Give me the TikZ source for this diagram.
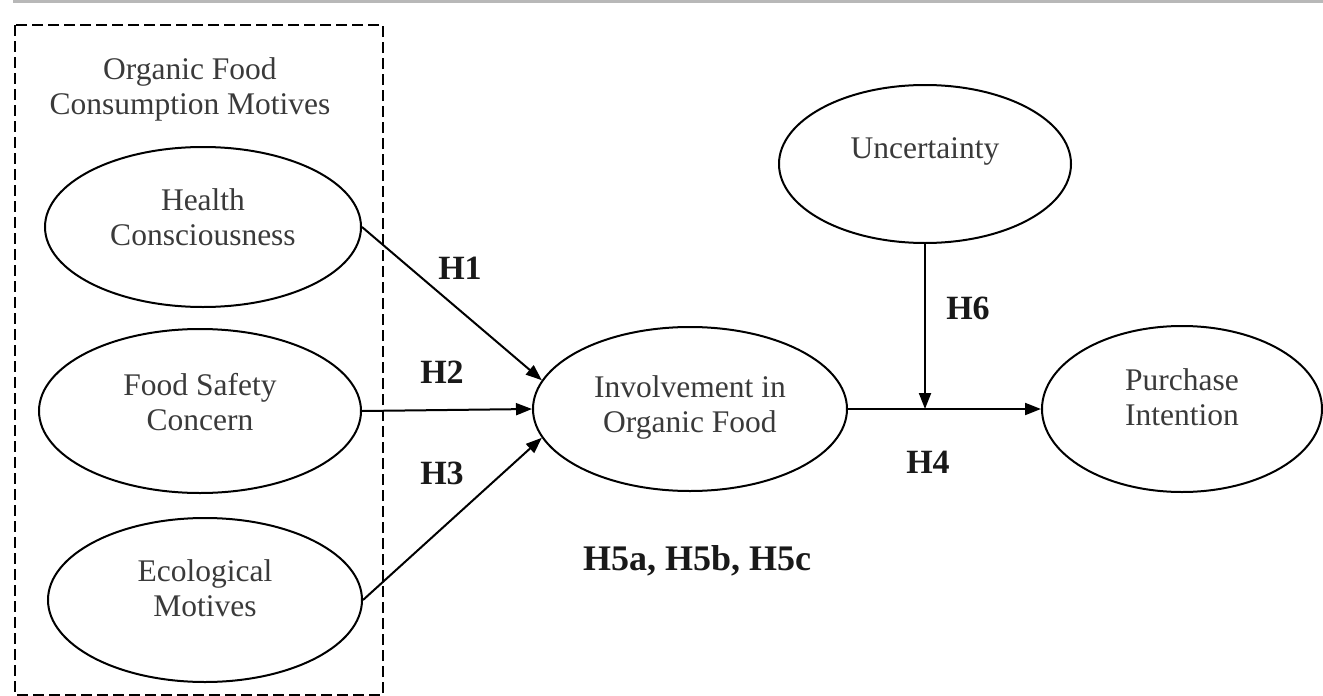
\documentclass[tikz,border=0pt]{standalone}
\usepackage{fontspec}
\setmainfont{Liberation Serif}
\usetikzlibrary{shapes.geometric,arrows.meta,calc}
\definecolor{txtgray}{HTML}{3A3A3A}
\definecolor{rulegray}{HTML}{B8B8B8}
\tikzset{
  construct/.style={draw=black, line width=2pt, ellipse, inner sep=0pt},
  ctext/.style={align=center, text=txtgray, font=\fontsize{31.5}{35}\selectfont, inner sep=0pt},
  hlabel/.style={font=\fontsize{34}{38}\selectfont\bfseries, text=black!90, inner sep=0pt},
  path/.style={line width=2pt, -{Triangle[length=16pt,width=12pt]}},
  motivebox/.style={draw=black, line width=2.6pt, dash pattern=on 11pt off 5pt}
}
\begin{document}
\begin{tikzpicture}[x=1pt,y=-1pt]
\useasboundingbox (0,0) rectangle (1323,696);
% top rule
\fill[rulegray] (13,0) rectangle (1323,3);
% dashed group box
\draw[motivebox] (15,25) rectangle (383,695);
\node[ctext] (grouptitle) at (190,89) {Organic Food\\Consumption Motives};
% constructs
\node[construct, minimum width=316pt, minimum height=160pt] (health) at (203,227) {};
\node[ctext] (healtht) at (203,217) {Health\\Consciousness};
\node[construct, minimum width=322pt, minimum height=164pt] (food) at (200,411) {};
\node[ctext] (foodt) at (200,402) {Food Safety\\Concern};
\node[construct, minimum width=314pt, minimum height=164pt] (eco) at (205,600) {};
\node[ctext] (ecot) at (205,588) {Ecological\\Motives};
\node[construct, minimum width=314pt, minimum height=164pt] (inv) at (690,409) {};
\node[ctext] (invt) at (690,407) {Involvement in\\Organic Food};
\node[construct, minimum width=292pt, minimum height=158pt] (unc) at (925,164) {};
\node[ctext] (unct) at (925,151) {Uncertainty};
\node[construct, minimum width=280pt, minimum height=166pt] (pur) at (1182,409) {};
\node[ctext] (purt) at (1182,397) {Purchase\\Intention};
% paths
\draw[path] (health.east) -- (inv.169.5);
\draw[path] (food.east) -- (inv.west);
\draw[path] (eco.east) -- (inv.191.5);
\draw[path] (inv.east) -- (pur.west);
\coordinate (mod) at (unc.south |- inv.east);
\draw[path] (unc.south) -- (mod);
% labels
\node[hlabel] (h1) at (460,268) {H1};
\node[hlabel] (h2) at (442,372) {H2};
\node[hlabel] (h3) at (442,473) {H3};
\node[hlabel] (h6) at (968,308) {H6};
\node[hlabel] (h4) at (928,462) {H4};
\node[hlabel, anchor=base, font=\fontsize{36}{40}\selectfont\bfseries] (h5) at (697,570) {H5a, H5b, H5c};
\end{tikzpicture}
\end{document}
